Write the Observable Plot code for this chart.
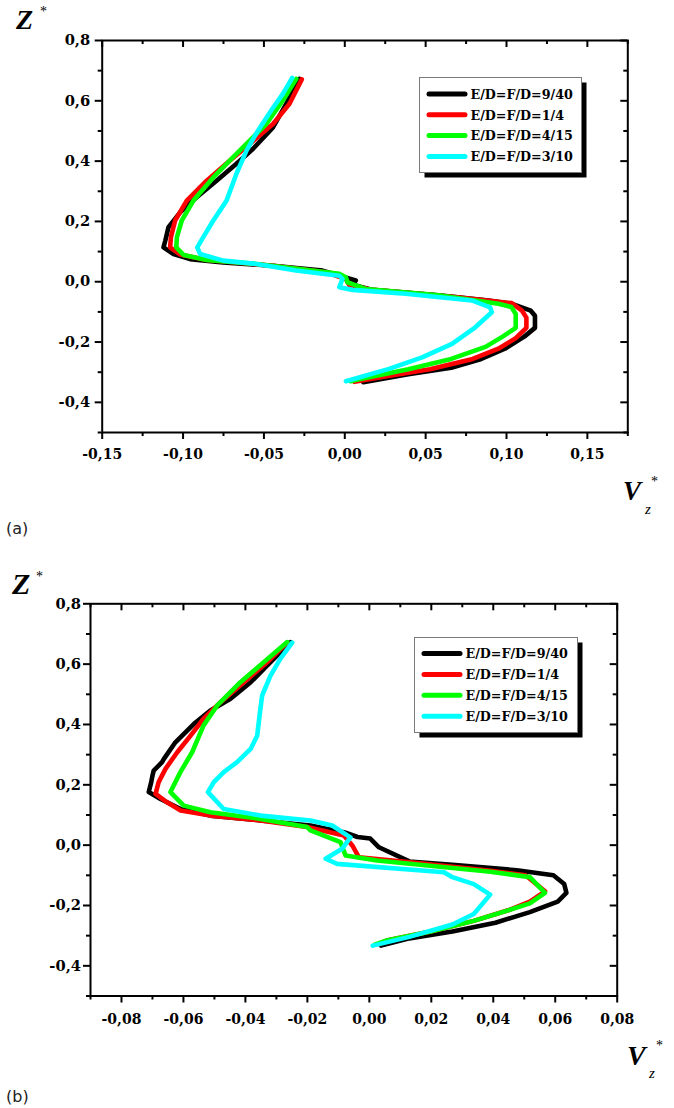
<!DOCTYPE html>
<html>
<head>
<meta charset="utf-8">
<script src="https://cdn.jsdelivr.net/npm/d3@7"></script>
<script src="https://cdn.jsdelivr.net/npm/@observablehq/plot@0.6"></script>
<style>
  html, body { margin: 0; padding: 0; background: #fff; }
  #chart svg { display: block; }
  #chart svg text { font-family: "DejaVu Serif", serif !important; font-weight: bold; fill: #000; }
  #chart svg text.title { font-family: "Liberation Serif", "Times New Roman", serif !important; font-weight: bold; font-style: italic; }
  #chart svg text.plain { font-family: "Liberation Serif", "Times New Roman", serif !important; font-weight: normal; }
  #chart svg text.tag { font-family: "DejaVu Sans", sans-serif !important; font-weight: normal; fill: #222; }
  #chart svg text.leg { font-size: 12.7px; }
  g[aria-label="y-axis tick label"] text { font-size: 14.7px; }
  g[aria-label="x-axis tick label"] text { font-size: 14px; }
</style>
</head>
<body>
<div id="chart"></div>
<script>
// ---------- data ----------
const seriesLabels = ["E/D=F/D=9/40", "E/D=F/D=1/4", "E/D=F/D=4/15", "E/D=F/D=3/10"];
const seriesColors = ["#000000", "#ff0000", "#00ff00", "#00ffff"];

// panel (a): [V_z*, Z*]
const a_9_40 = [[-0.028,0.673],[-0.0362,0.590],[-0.0444,0.512],[-0.0567,0.441],[-0.0670,0.391],[-0.0793,0.335],[-0.0916,0.280],[-0.1018,0.230],[-0.1090,0.181],[-0.1110,0.136],[-0.1121,0.114],[-0.1059,0.092],[-0.0956,0.075],[-0.0752,0.064],[-0.0444,0.053],[-0.0137,0.037],[-0.0034,0.020],[0.0068,0.004],[0.0050,-0.010],[0.0171,-0.027],[0.0581,-0.045],[0.0889,-0.062],[0.1030,-0.073],[0.1150,-0.096],[0.1176,-0.113],[0.1176,-0.153],[0.1110,-0.182],[0.0990,-0.222],[0.0844,-0.256],[0.0658,-0.285],[0.0393,-0.307],[0.0114,-0.333]];
const a_1_4 = [[-0.0266,0.671],[-0.0342,0.590],[-0.0444,0.523],[-0.0588,0.457],[-0.0710,0.402],[-0.0854,0.335],[-0.0977,0.269],[-0.1049,0.203],[-0.1075,0.148],[-0.1080,0.114],[-0.1018,0.090],[-0.0854,0.072],[-0.0444,0.053],[-0.0116,0.031],[0.0007,0.009],[0.0027,-0.010],[0.0171,-0.027],[0.0683,-0.051],[0.1032,-0.071],[0.1096,-0.096],[0.1123,-0.119],[0.1123,-0.153],[0.1057,-0.187],[0.0950,-0.222],[0.0791,-0.256],[0.0526,-0.290],[0.0260,-0.313],[0.0060,-0.332]];
const a_4_15 = [[-0.0300,0.673],[-0.0383,0.601],[-0.0485,0.523],[-0.0588,0.468],[-0.0690,0.413],[-0.0813,0.346],[-0.0936,0.269],[-0.1008,0.203],[-0.1038,0.148],[-0.1042,0.114],[-0.0997,0.089],[-0.0854,0.072],[-0.0547,0.059],[-0.0280,0.042],[-0.0034,0.026],[0.0007,0.015],[0.0017,-0.002],[0.0130,-0.024],[0.0581,-0.045],[0.0950,-0.073],[0.1030,-0.084],[0.1057,-0.107],[0.1057,-0.153],[0.0976,-0.182],[0.0870,-0.216],[0.0658,-0.256],[0.0393,-0.290],[0.0074,-0.325],[0.0035,-0.330]];
const a_3_10 = [[-0.0325,0.676],[-0.0383,0.623],[-0.0455,0.568],[-0.0537,0.501],[-0.0608,0.435],[-0.0670,0.358],[-0.0731,0.269],[-0.0813,0.203],[-0.0875,0.148],[-0.0912,0.114],[-0.0895,0.092],[-0.0752,0.070],[-0.0547,0.059],[-0.0301,0.037],[-0.0034,0.020],[-0.0014,0.009],[-0.0034,-0.018],[0.0048,-0.027],[0.0376,-0.040],[0.0786,-0.062],[0.0899,-0.085],[0.0909,-0.101],[0.0807,-0.151],[0.0663,-0.206],[0.0478,-0.251],[0.0274,-0.289],[0.0007,-0.330]];

// panel (b): [V_z*, Z*]
const b_9_40 = [[-0.0254,0.673],[-0.0319,0.607],[-0.0383,0.540],[-0.0448,0.485],[-0.0513,0.446],[-0.0566,0.402],[-0.0626,0.341],[-0.0663,0.286],[-0.0669,0.275],[-0.0696,0.247],[-0.0700,0.230],[-0.0704,0.209],[-0.0712,0.176],[-0.0674,0.153],[-0.0609,0.120],[-0.0513,0.098],[-0.0351,0.082],[-0.0190,0.065],[-0.0082,0.043],[-0.0038,0.027],[0.0003,0.022],[0.0031,-0.007],[0.0129,-0.054],[0.0268,-0.065],[0.0476,-0.083],[0.0594,-0.100],[0.0629,-0.129],[0.0636,-0.158],[0.0608,-0.187],[0.0518,-0.222],[0.0407,-0.257],[0.0268,-0.286],[0.0129,-0.309],[0.0038,-0.333]];
const b_1_4 = [[-0.0265,0.671],[-0.0329,0.607],[-0.0405,0.540],[-0.0480,0.474],[-0.0535,0.419],[-0.0577,0.363],[-0.0620,0.308],[-0.0658,0.253],[-0.0680,0.209],[-0.0690,0.170],[-0.0653,0.142],[-0.0609,0.115],[-0.0513,0.098],[-0.0351,0.082],[-0.0201,0.060],[-0.0082,0.032],[-0.0055,-0.001],[-0.0034,-0.040],[0.0133,-0.057],[0.0391,-0.085],[0.0504,-0.100],[0.0567,-0.153],[0.0518,-0.187],[0.0448,-0.216],[0.0337,-0.251],[0.0198,-0.286],[0.0059,-0.315],[0.0031,-0.327]];
const b_4_15 = [[-0.0265,0.673],[-0.0340,0.607],[-0.0416,0.540],[-0.0491,0.463],[-0.0535,0.397],[-0.0572,0.308],[-0.0610,0.242],[-0.0642,0.176],[-0.0599,0.131],[-0.0513,0.109],[-0.0351,0.087],[-0.0201,0.060],[-0.0190,0.049],[-0.0093,0.010],[-0.0077,-0.034],[0.0025,-0.051],[0.0391,-0.088],[0.0518,-0.106],[0.0567,-0.158],[0.0518,-0.193],[0.0448,-0.216],[0.0337,-0.251],[0.0198,-0.286],[0.0059,-0.315],[0.0017,-0.330]];
const b_3_10 = [[-0.0249,0.671],[-0.0287,0.618],[-0.0319,0.562],[-0.0346,0.496],[-0.0353,0.441],[-0.0362,0.363],[-0.0383,0.319],[-0.0427,0.275],[-0.0470,0.242],[-0.0502,0.209],[-0.0521,0.176],[-0.0470,0.120],[-0.0351,0.098],[-0.0190,0.082],[-0.0120,0.065],[-0.0061,0.026],[-0.0088,-0.012],[-0.0141,-0.045],[-0.0104,-0.062],[0.0241,-0.090],[0.0268,-0.106],[0.0337,-0.129],[0.0390,-0.164],[0.0337,-0.228],[0.0268,-0.263],[0.0129,-0.304],[0.0011,-0.333]];

// ticks
const a_xMajor = [-0.15, -0.10, -0.05, 0.00, 0.05, 0.10, 0.15];
const a_xMinor = [-0.125, -0.075, -0.025, 0.025, 0.075, 0.125, 0.175];
const b_xMajor = [-0.08, -0.06, -0.04, -0.02, 0.00, 0.02, 0.04, 0.06, 0.08];
const b_xMinor = [-0.09, -0.07, -0.05, -0.03, -0.01, 0.01, 0.03, 0.05, 0.07];
const yMajor = [-0.4, -0.2, 0.0, 0.2, 0.4, 0.6, 0.8];
const yMinor = [-0.5, -0.3, -0.1, 0.1, 0.3, 0.5, 0.7];

// ---------- drawing ----------
const comma = (digits) => (d) => d.toFixed(digits).replace(".", ",");

function panel(cfg) {
  const W = 674;
  const fw = W - cfg.ml - cfg.mr;
  const fh = cfg.height - cfg.mt - cfg.mb;
  const sw = 2;
  const marks = [
    Plot.axisX({ticks: cfg.xMajor, tickSize: 7, tickPadding: cfg.xPad, tickFormat: comma(2), label: null, strokeWidth: sw}),
    Plot.axisX({ticks: cfg.xMinor, tickSize: 4, text: null, label: null, strokeWidth: sw}),
    Plot.axisY({ticks: yMajor, tickSize: 7, tickPadding: cfg.yPad, tickFormat: comma(1), label: null, strokeWidth: sw}),
    Plot.axisY({ticks: yMinor, tickSize: 4, text: null, label: null, strokeWidth: sw}),
    // mirrored inward ticks on top and right
    Plot.tickX(cfg.xMajor, {x: d => d, insetBottom: fh - 7, strokeWidth: sw}),
    Plot.tickX(cfg.xMinor, {x: d => d, insetBottom: fh - 4, strokeWidth: sw}),
    Plot.tickY(yMajor, {y: d => d, insetLeft: fw - 7, strokeWidth: sw}),
    Plot.tickY(yMinor, {y: d => d, insetLeft: fw - 4, strokeWidth: sw}),
    Plot.frame({stroke: "#000", strokeWidth: sw}),
    ...cfg.series.map((s, i) => Plot.line(s, {
      x: d => d[0], y: d => d[1], stroke: seriesColors[i], strokeWidth: 4.6,
      strokeLinejoin: "round", strokeLinecap: "round"
    }))
  ];
  const svg = Plot.plot({
    width: W, height: cfg.height,
    marginTop: cfg.mt, marginBottom: cfg.mb, marginLeft: cfg.ml, marginRight: cfg.mr,
    x: {domain: cfg.xDomain},
    y: {domain: [-0.5, 0.8]},
    style: {fontSize: "14px", color: "#000", background: "#fff", overflow: "visible"},
    marks
  });
  const g = d3.select(svg).append("g").attr("text-anchor", "start");
  const txt = (x, y, size, s, cls) => g.append("text").attr("x", x).attr("y", y)
    .attr("font-size", size).attr("text-anchor", "start").attr("class", cls).text(s);

  // axis titles
  txt(cfg.z.x, cfg.z.y, cfg.z.size, "Z", "title");
  txt(cfg.z.sx, cfg.z.sy, 14, "*", "plain");
  txt(cfg.v.x, cfg.v.y, cfg.v.size, "V", "title");
  txt(cfg.v.zx, cfg.v.zy, 15, "z", "plain").attr("font-style", "italic");
  txt(cfg.v.sx, cfg.v.sy, 14, "*", "plain");

  // panel tag
  txt(6, cfg.tagY, 16, cfg.tag, "tag");

  // legend
  const L = cfg.legend;
  const lg = g.append("g").attr("transform", `translate(${L.x},${L.y})`);
  lg.append("rect").attr("x", 5.5).attr("y", 5.5).attr("width", L.w).attr("height", L.h).attr("fill", "#000");
  lg.append("rect").attr("x", 0.5).attr("y", 0.5).attr("width", L.w).attr("height", L.h)
    .attr("fill", "#fff").attr("stroke", "#7a7a7a").attr("stroke-width", 1);
  seriesLabels.forEach((lab, i) => {
    const yy = L.row0 + i * L.step;
    lg.append("line").attr("x1", 10).attr("x2", 46).attr("y1", yy).attr("y2", yy)
      .attr("stroke", seriesColors[i]).attr("stroke-width", 5).attr("stroke-linecap", "round");
    lg.append("text").attr("x", 51.5).attr("y", yy + 4.7).attr("text-anchor", "start")
      .attr("class", "leg").text(lab);
  });
  return svg;
}

const chart = document.getElementById("chart");
chart.appendChild(panel({
  height: 560, mt: 40, mb: 128, ml: 101.7, mr: 46.7, xPad: 10, yPad: 5,
  xDomain: [-0.15, 0.175], xMajor: a_xMajor, xMinor: a_xMinor,
  series: [a_9_40, a_1_4, a_4_15, a_3_10],
  z: {x: 16, y: 29, size: 28, sx: 40, sy: 16},
  v: {x: 623, y: 500, size: 27, zx: 645, zy: 514, sx: 651, sy: 486},
  tag: "(a)", tagY: 534,
  legend: {x: 419, y: 77, w: 162, h: 95, row0: 17, step: 20.8}
}));
chart.appendChild(panel({
  height: 548, mt: 43.3, mb: 112.5, ml: 90, mr: 57.3, xPad: 11.5, yPad: 2.5,
  xDomain: [-0.09, 0.08], xMajor: b_xMajor, xMinor: b_xMinor,
  series: [b_9_40, b_1_4, b_4_15, b_3_10],
  z: {x: 12, y: 34, size: 30, sx: 36, sy: 21},
  v: {x: 627, y: 505, size: 28, zx: 649, zy: 518, sx: 656, sy: 490},
  tag: "(b)", tagY: 542,
  legend: {x: 414, y: 77, w: 163, h: 95, row0: 16.5, step: 20.9}
}));
</script>
</body>
</html>
